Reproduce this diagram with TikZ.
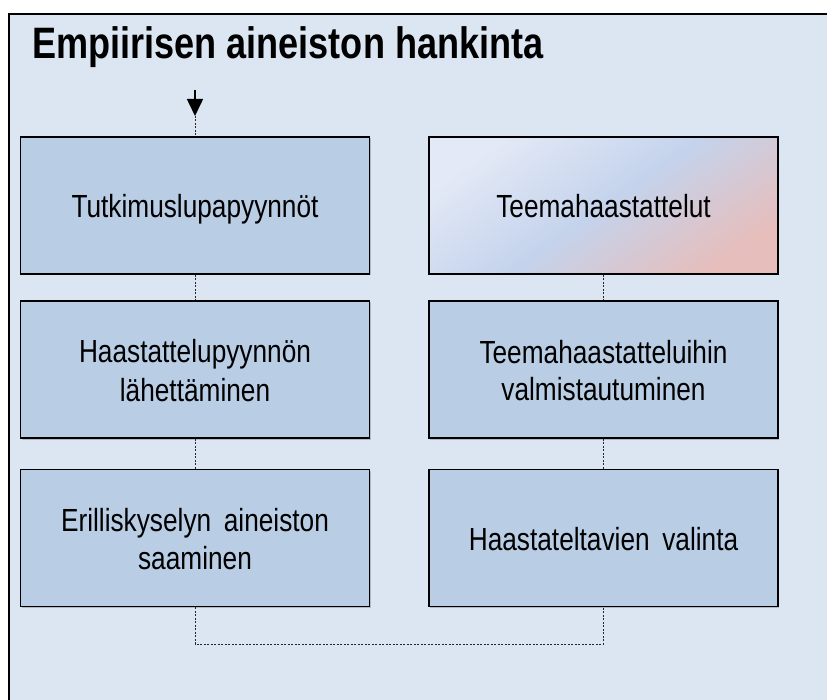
\documentclass[tikz,border=0pt]{standalone}
\usepackage{fontspec}
\setmainfont{Liberation Sans}[FakeStretch=0.82]
\usetikzlibrary{arrows.meta,shadows}
\definecolor{framefill}{HTML}{DCE6F2}
\definecolor{boxfill}{HTML}{B9CDE5}
\definecolor{gradA}{RGB}{227,233,246}
\definecolor{gradB}{RGB}{196,211,236}
\definecolor{gradC}{RGB}{230,190,188}
\newcommand{\ls}{\rule[-6pt]{0pt}{37pt}}
\tikzset{
  stepbox/.style={draw=black, line width=1.8pt, fill=boxfill, minimum width=349pt, minimum height=137pt,
    inner sep=0pt, align=center, font=\fontsize{32}{37}\selectfont,
    drop shadow={shadow xshift=1.2pt, shadow yshift=-1.5pt, opacity=0.35, fill=black!60}},
  gradbox/.style={stepbox, top color=gradA, bottom color=gradC, middle color=gradB, shading angle=35},
  dashline/.style={draw=black!85, line width=0.8pt, dash pattern=on 2pt off 1.5pt},
}
\begin{document}
\begin{tikzpicture}[x=1pt,y=-1pt]
\useasboundingbox (0,0) rectangle (827,700);
\clip (0,0) rectangle (827,700);
\fill[white] (0,0) rectangle (827,700);
\draw[line width=2.8pt, fill=framefill] (9,14) rectangle (850,730);
\node[anchor=base west, inner sep=0pt, font=\fontsize{44}{50}\selectfont\bfseries] (title) at (32,59) {Empiirisen aineiston hankinta};
% left column
\node[stepbox] (l1) at (195,205.5) {\ls Tutkimuslupapyynnöt};
\node[stepbox] (l2) at (195,369.5) {\ls Haastattelupyynnön\\\ls lähettäminen};
\node[stepbox] (l3) at (195,538) {\ls Erilliskyselyn\ \,aineiston\\\ls saaminen};
% right column
\node[gradbox] (r1) at (603.5,205.5) {\ls Teemahaastattelut};
\node[stepbox] (r2) at (603.5,369.5) {\ls Teemahaastatteluihin\\\ls valmistautuminen};
\node[stepbox] (r3) at (603.5,538) {\ls Haastateltavien\ \,valinta};
% connectors
\coordinate (a0) at (195,90);
\coordinate (a1) at (195,116);
\draw[line width=1.6pt, -{Triangle[length=17pt,width=16pt]}] (a0) -- (a1);
\draw[dashline] (a1) -- (l1.north);
\draw[dashline] (l1.south) -- (l2.north);
\draw[dashline] (l2.south) -- (l3.north);
\draw[dashline] (r1.south) -- (r2.north);
\draw[dashline] (r2.south) -- (r3.north);
\coordinate (b1) at (195,644);
\coordinate (b2) at (603.5,644);
\draw[dashline] (l3.south) -- (b1) -- (b2) -- (r3.south);
\end{tikzpicture}
\end{document}
